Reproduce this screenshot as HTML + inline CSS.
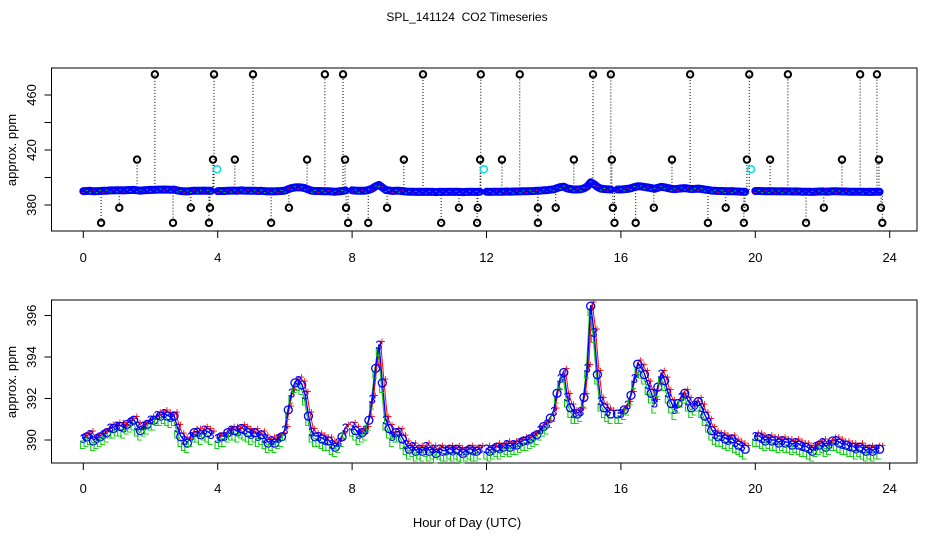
<!DOCTYPE html>
<html><head><meta charset="utf-8"><style>
html,body{margin:0;padding:0;background:#fff;}
svg{display:block;font-family:"Liberation Sans",sans-serif;}
</style></head><body>
<svg id="c" width="936" height="540" viewBox="0 0 936 540" xmlns="http://www.w3.org/2000/svg">
<rect width="936" height="540" fill="#fff"/>
<text x="467" y="21" font-size="12" text-anchor="middle">SPL_141124 &#160;CO2 Timeseries</text>
<rect x="51.5" y="68" width="865.5" height="163" fill="none" stroke="#000"/>
<rect x="51.5" y="300" width="865.5" height="163" fill="none" stroke="#000"/>
<text transform="translate(16,150) rotate(-90)" font-size="13" text-anchor="middle">approx. ppm</text>
<text transform="translate(16,382) rotate(-90)" font-size="13" text-anchor="middle">approx. ppm</text>
<text x="467" y="527" font-size="13" text-anchor="middle">Hour of Day (UTC)</text>
<g id="topPanel"></g><g id="botPanel"></g>
</svg>
<script>
// ---- data ----
const xTicks = [0,4,8,12,16,20,24];
const topYTicks = [380,400,420,440,460];
const topYLabels = [380,420,460];
const botYTicks = [390,392,394,396];
const stepHours = 0.1;
const co2 = [
390.1,390.2,390.3,390.0,390.1,390.2,390.3,390.4,390.6,390.6,
390.7,390.7,390.6,390.8,390.9,391.0,390.7,390.5,390.7,390.8,
391.0,391.0,391.2,391.2,391.3,391.2,391.1,391.2,390.6,390.2,
390.0,389.9,390.2,390.4,390.4,390.3,390.5,390.4,390.3,null,
390.1,390.2,390.2,390.4,390.5,390.5,390.4,390.6,390.5,390.4,
390.3,390.4,390.2,390.3,390.1,389.9,390.0,389.9,390.1,390.2,
390.5,391.5,392.3,392.8,392.9,392.7,392.2,391.2,390.4,390.2,
390.2,390.1,390.0,390.0,389.8,389.7,389.9,390.2,390.6,null,
390.7,390.5,390.3,390.4,390.5,391.0,392.0,393.5,394.6,392.8,
391.0,390.6,390.2,390.4,390.4,390.1,389.8,389.6,389.7,389.5,
389.6,389.5,389.7,389.5,389.6,389.4,389.6,389.5,389.5,389.6,
389.5,389.6,389.5,389.4,389.5,389.6,389.5,389.5,389.6,null,
389.6,389.5,389.6,389.7,389.6,389.7,389.8,389.7,389.8,389.8,
389.9,390.0,390.0,390.1,390.2,390.3,390.5,390.7,390.8,391.1,
391.4,392.3,393.0,393.3,392.1,391.6,391.3,391.3,391.4,392.1,
393.5,396.5,395.2,393.2,391.9,391.6,391.4,391.3,null,391.3,
391.3,391.5,391.7,392.2,393.0,393.7,393.5,393.2,392.7,392.3,
391.8,392.6,393.2,392.9,392.3,391.8,391.5,391.8,392.1,392.3,
391.9,391.6,391.7,391.9,391.6,391.2,390.9,390.5,390.3,390.2,
390.2,390.1,390.0,390.1,389.9,389.8,389.7,389.6,null,null,
390.2,390.2,390.1,390.0,390.1,390.0,390.0,389.9,390.0,389.9,
389.9,389.8,389.9,389.8,389.7,389.7,389.6,389.5,389.7,389.8,
389.9,389.7,389.8,390.0,390.0,389.9,389.8,389.8,389.7,389.7,
389.6,389.7,389.6,389.5,389.6,389.5,389.6,389.6,null,null];
const outHigh = [2.13,3.89,5.05,7.19,7.73,10.11,11.83,12.99,15.17,15.70,18.06,19.82,20.97,23.12,23.62];
const outHighVal = 475;
const outMid = [1.60,3.86,4.51,6.66,7.79,9.54,11.81,12.46,14.60,15.73,17.52,19.75,20.44,22.58,23.68];
const outMidVal = 413;
const outLow = [1.07,3.20,3.77,6.12,7.82,9.04,11.18,11.74,13.53,14.06,15.76,16.98,19.12,19.69,22.04,23.74];
const outLowVal = 378;
const outMin = [0.53,2.67,3.74,5.59,7.88,8.48,10.65,11.72,13.53,15.81,16.44,18.59,19.66,21.51,23.78];
const outMinVal = 367;
const cyanHours = [3.98,11.92,19.87];
const cyanVal = 406;

// ---- scales ----
const X = h => 83.3 + h * 33.6;
const YT = v => 205 - (v - 380) * 1.375;
const YB = v => 440 - (v - 390) * 20.75;
const NS = "http://www.w3.org/2000/svg";
function mk(parent, tag, attrs){const e=document.createElementNS(NS,tag);for(const k in attrs)e.setAttribute(k,attrs[k]);parent.appendChild(e);return e;}
const topG = document.getElementById('topPanel'), botG = document.getElementById('botPanel');

[[231,262],[463,493]].forEach(([yb,yl],pi)=>{
  const g = pi? botG: topG;
  xTicks.forEach(t=>{
    const l = mk(g,'line',{x1:X(t),x2:X(t),y1:yb,y2:yb+7,stroke:'#000'});
    
    
    const tx = mk(g,'text',{x:X(t),y:yl,'font-size':13,'text-anchor':'middle'});
    tx.textContent = t;
    
    
  });
});
topYTicks.forEach(t=>{
  const l = mk(topG,'line',{x1:44.5,x2:51.5,y1:YT(t),y2:YT(t),stroke:'#000'});
  
  
});
topYLabels.forEach(t=>{
  const tx = mk(topG,'text',{transform:`translate(36,${YT(t)}) rotate(-90)`,'font-size':13,'text-anchor':'middle'});
  tx.textContent = t;
  
  
});
botYTicks.forEach(t=>{
  const l = mk(botG,'line',{x1:44.5,x2:51.5,y1:YB(t),y2:YB(t),stroke:'#000'});
  
  
  const tx = mk(botG,'text',{transform:`translate(36,${YB(t)}) rotate(-90)`,'font-size':13,'text-anchor':'middle'});
  tx.textContent = t;
  
  
});

function segments(yf, dx, dy){
  const segs=[];let cur=[];
  co2.forEach((v,i)=>{ if(v===null){ if(cur.length)segs.push(cur); cur=[]; } else cur.push([X(i*stepHours)+dx, yf(v)+dy]); });
  if(cur.length) segs.push(cur);
  return segs;
}
const outlierSets = [[outHigh,outHighVal],[outMid,outMidVal],[outLow,outLowVal],[outMin,outMinVal]];
outlierSets.forEach(([hs,val])=>{
  hs.forEach(h=>{
    const base = co2[Math.round(h/stepHours)] || 391;
    const s = mk(topG,'line',{x1:X(h),x2:X(h),y1:YT(base),y2:YT(val),stroke:'#000','stroke-dasharray':'1,2'});
    
    
  });
});
segments(YT,0,0).forEach(seg=>{
  const d = seg.map((p,i)=>(i?'L':'M')+p[0].toFixed(1)+' '+p[1].toFixed(1)).join('');
  const p1 = mk(topG,'path',{d,fill:'none',stroke:'#00f','stroke-width':8,'stroke-linecap':'round','stroke-linejoin':'round'});
  
  
  seg.forEach((p,i)=>{
    const dot = mk(topG,'rect',{x:p[0]-1,y:p[1]+(i%2?-1:1),width:2,height:1,fill:i%3?'#0c0':'#f00'});
    
    
  });
});
outlierSets.forEach(([hs,val])=>{
  hs.forEach(h=>{
    const c = mk(topG,'circle',{cx:X(h),cy:YT(val),r:3.2,fill:'none',stroke:'#000','stroke-width':2});
    
    
  });
});
cyanHours.forEach(h=>{
  const c = mk(topG,'circle',{cx:X(h),cy:YT(cyanVal),r:3.5,fill:'none',stroke:'#0dd','stroke-width':1.5});
  
  
});

const traceStyles = [['#f00',1.5,-3],['#0c0',-1,3],['#00f',0,0]];
traceStyles.forEach(([col,dx,dy])=>{
  segments(YB,dx,dy).forEach(seg=>{
    const d = seg.map((p,i)=>(i?'L':'M')+p[0].toFixed(1)+' '+p[1].toFixed(1)).join('');
    const pl = mk(botG,'path',{d,fill:'none',stroke:col,'stroke-width':col==='#00f'?1.4:1});
    
    
  });
});
co2.forEach((v,i)=>{
  if(v===null) return;
  const x = X(i*stepHours), y = YB(v);
  const r = mk(botG,'text',{x:x+3,y:y+1,'font-size':12,'text-anchor':'middle',fill:'#f00'});
  r.textContent = '+';
  
  
  const g = mk(botG,'text',{x:x-1,y:y+11,'font-size':11,'text-anchor':'middle',fill:'#0c0'});
  g.textContent = 'L';
  
  
  if(i%2===0){
    const b = mk(botG,'text',{x:x,y:y+5,'font-size':13,'text-anchor':'middle',fill:'#00f'});
    b.textContent = '3';
    
    
  } else {
    const c = mk(botG,'circle',{cx:x,cy:y+1,r:4,fill:'none',stroke:'#00f','stroke-width':1.3});
    
    
  }
});
</script>
</body></html>
